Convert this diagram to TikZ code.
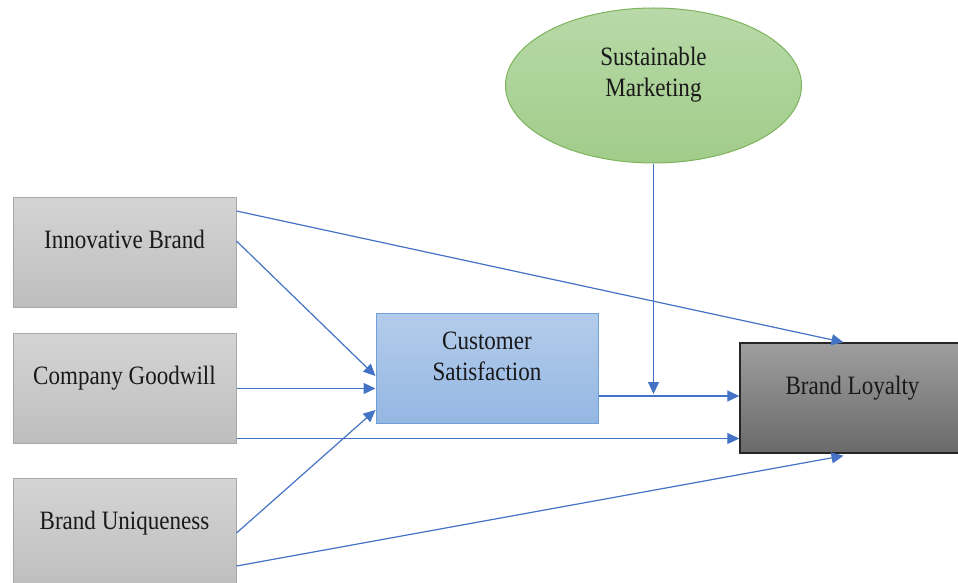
\documentclass[tikz,border=0pt]{standalone}
\usepackage{fontspec}
\setmainfont{Liberation Serif}[FakeStretch=0.87]
\usepackage{tikz}
\usetikzlibrary{shapes.geometric,arrows.meta}
\definecolor{pathblue}{HTML}{4472C4}
\definecolor{greytop}{HTML}{D4D4D4}
\definecolor{greybot}{HTML}{BEBEBE}
\definecolor{greyedge}{HTML}{A9A9A9}
\definecolor{bluetop}{HTML}{B4CCEA}
\definecolor{bluebot}{HTML}{94B7E3}
\definecolor{blueedge}{HTML}{6FA0D8}
\definecolor{darktop}{HTML}{9E9E9E}
\definecolor{darkbot}{HTML}{6A6A6A}
\definecolor{greentop}{HTML}{B8D9A8}
\definecolor{greenbot}{HTML}{A1CC8A}
\definecolor{greenedge}{HTML}{7DB35C}
\tikzset{
  construct/.style={rectangle, draw=greyedge, line width=1pt, top color=greytop, bottom color=greybot,
    minimum width=223pt, minimum height=110pt, inner sep=0pt, text height=51pt, text depth=59pt},
  mediator/.style={construct, draw=blueedge, top color=bluetop, bottom color=bluebot,
    minimum width=222pt, align=center, text height=67pt, text depth=43pt},
  outcome/.style={construct, draw=black!85, line width=1.4pt, top color=darktop, bottom color=darkbot,
    minimum width=225pt},
  moderator/.style={ellipse, draw=greenedge, line width=1pt, top color=greentop, bottom color=greenbot,
    minimum width=296pt, minimum height=155pt, inner sep=0pt, align=center, text height=60pt, text depth=37pt},
  pathline/.style={draw=pathblue, line width=1.2pt}
}
\newcommand{\smconstruct}[3] {\node at (#1) (#2) [construct] {#3};}
\newcommand{\smmediator}[3] {\node at (#1) (#2) [mediator] {#3};}
\newcommand{\smoutcome}[3] {\node at (#1) (#2) [outcome] {#3};}
\newcommand{\smmoderator}[3] {\node at (#1) (#2) [moderator] {#3};}
\newcommand{\smpath}[2] {\draw [pathline, ->] (#1) -- (#2);}

\begin{document}
\begin{tikzpicture}[x=1pt, y=-1pt, >={Triangle[length=12pt,width=11pt]},
  font=\fontsize{26.5}{31}\selectfont, text=black!90]
\useasboundingbox (0,0) rectangle (958,583);

\smmoderator {653.5,85.5}{sustain}{Sustainable\\Marketing}
\smconstruct {124.5,252}{innov}{Innovative Brand}
\smconstruct {124.5,388.5}{goodwill}{Company Goodwill}
\smconstruct {124.5,533}{unique}{Brand Uniqueness}
\smmediator {487,368}{satisf}{Customer\\Satisfaction}
\smoutcome {852.5,398}{loyalty}{Brand Loyalty}

\coordinate (innov1) at ([yshift=41pt]innov.east);
\coordinate (innov2) at ([yshift=11pt]innov.east);
\coordinate (goodwill2) at ([yshift=-50pt]goodwill.east);
\coordinate (unique2) at ([yshift=-33pt]unique.east);
\coordinate (satisf1) at ([yshift=-28pt]satisf.east);

\smpath {innov1}{[xshift=-9pt]loyalty.north}
\smpath {innov2}{[yshift=-8pt]satisf.west}
\smpath {goodwill.east}{goodwill.east -| satisf.west}
\smpath {goodwill2}{goodwill2 -| loyalty.west}
\smpath {unique.east}{[yshift=-42pt]satisf.west}
\smpath {unique2}{[xshift=-9pt,yshift=-2pt]loyalty.south}
\smpath {satisf1}{satisf1 -| loyalty.west}
\draw [pathline, ->, shorten >=2pt] (sustain.south) -- (sustain.south |- satisf1);
\end{tikzpicture}
\end{document}
